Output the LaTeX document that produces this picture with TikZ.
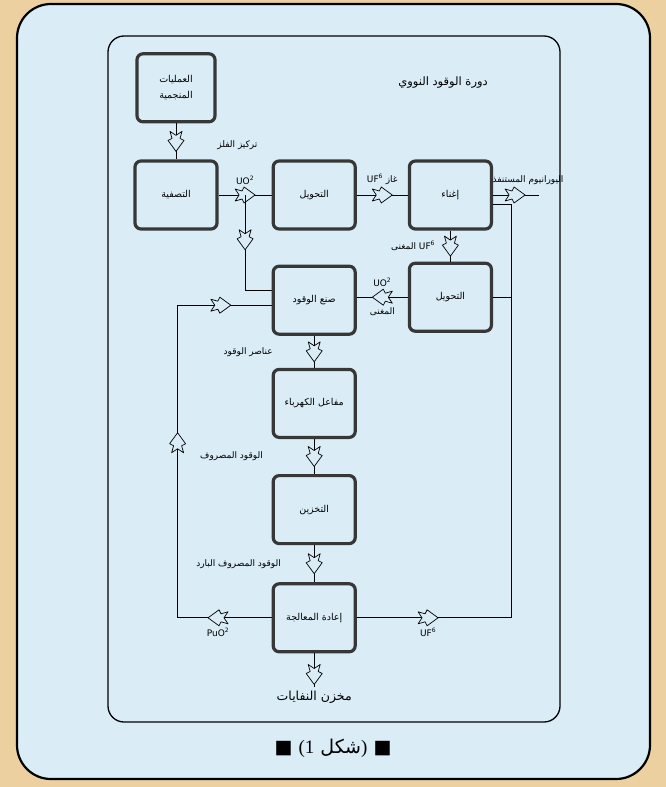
\documentclass[tikz,border=0pt]{standalone}
\usepackage{fontspec}
\setmainfont{DejaVu Sans}
\newfontfamily\arabicfont[Script=Arabic]{DejaVu Sans}
\newfontfamily\capfont{Liberation Serif}
\TeXXeTstate=1
\usetikzlibrary{positioning, calc}

\definecolor{paleblue}{RGB}{218,236,246}
\definecolor{sand}{RGB}{236,208,160}
\definecolor{boxline}{RGB}{55,55,55}

\newcommand{\artxt}[1]{{\arabicfont\beginR #1\endR}}

\tikzset{
  chev/.pic={\draw[line width=0.7pt, fill=paleblue, line join=round] (-10,6) -- (-3,4) -- (-1,8) -- (10,0) -- (-1,-8) -- (-3,-4) -- (-10,-6) -- (-6,0) -- cycle;}
}

\begin{document}
\begin{tikzpicture}[x=1pt, y=1pt, node distance=34pt and 53pt,
    stage/.style={rectangle, rounded corners=6pt, draw=boxline, line width=3.2pt, fill=paleblue, minimum width=82pt, minimum height=68pt, align=center, font=\fontsize{9.5}{13}\selectfont},
    lbl/.style={font=\fontsize{9}{10}\selectfont, inner sep=1pt},
    flow/.style={line width=0.8pt}]
    % frame
    \useasboundingbox (0,0) rectangle (666,-787);
    \fill[sand] (0,0) rectangle (666,-787);
    \draw[line width=2.2pt, fill=paleblue, rounded corners=34pt] (17,-4) rectangle (650,-779);
    \draw[line width=1.3pt, rounded corners=16pt] (108,-36) rectangle (560,-722);

    % Stages
    \node[stage] (tasfiya) at (176,-195) {\artxt{التصفية}};
    \node[stage, minimum width=78pt, above=36pt of tasfiya] (mine) {\artxt{العمليات}\\[3pt]\artxt{المنجمية}};
    \node[stage, right=53pt of tasfiya] (tahwilA) {\artxt{التحويل}};
    \node[stage, right=51pt of tahwilA] (ighna) {\artxt{إغناء}};
    \node[stage, below=31pt of ighna] (tahwilB) {\artxt{التحويل}};
    \node[stage, below=34pt of tahwilA] (fab) {\artxt{صنع الوقود}};
    \node[stage, below=32pt of fab] (reactor) {\artxt{مفاعل الكهرباء}};
    \node[stage, below=35pt of reactor] (store) {\artxt{التخزين}};
    \node[stage, below=37pt of store] (rep) {\artxt{إعادة المعالجة}};
    \node[font=\fontsize{12.5}{14}\selectfont, inner sep=3pt, below=34pt of rep] (waste) {\artxt{مخزن النفايات}};
    \node[font=\fontsize{11.5}{13}\selectfont] (title) at (443,-83) {\artxt{دورة الوقود النووي}};
    \node[font=\fontsize{19}{22}\selectfont] (caption) at (333,-748) {■ {\capfont(1} \artxt{شكل}{\capfont)} ■};

    \coordinate (fabtop) at ([yshift=10pt]fab.west);
    \coordinate (fablow) at ([yshift=-5pt]fab.west);
    \coordinate[right=46pt of ighna.east] (depleted);

    % Connections
    \draw[flow] (mine) -- pic[pos=.5, rotate=-90]{chev} node[lbl, pos=.6, right=40pt]{\artxt{تركيز الفلز}} (tasfiya);
    \draw[flow] (tasfiya) -- pic[pos=.5]{chev} coordinate[pos=.5] (split) node[lbl, pos=.5, above=9pt]{UO\textsuperscript{2}} (tahwilA);
    \draw[flow] (split) -- pic[pos=.47, rotate=-90]{chev} (split |- fabtop) -- (fabtop);
    \draw[flow] (tahwilA) -- pic[pos=.5]{chev} node[lbl, pos=.5, above=9pt]{\artxt{غاز \beginL UF\textsuperscript{6}\endL}} (ighna);
    \draw[flow] (ighna) -- pic[pos=.48]{chev} node[lbl, pos=.5, above=9pt, xshift=12pt]{\artxt{اليورانيوم المستنفذ}} (depleted);
    \draw[flow] (ighna) -- pic[pos=.5, rotate=-90]{chev} node[lbl, pos=.5, left=14pt]{\artxt{\beginL UF\textsuperscript{6}\endL{} المغنى}} (tahwilB);
    \draw[flow] (tahwilB.west) -- pic[pos=.5, rotate=180]{chev} node[lbl, pos=.5, above=9pt]{UO\textsuperscript{2}} node[lbl, pos=.5, below=9pt]{\artxt{المغنى}} (tahwilB.west -| fab.east);
    \draw[flow] (fab) -- pic[pos=.5, rotate=-90]{chev} node[lbl, pos=.5, left=40pt]{\artxt{عناصر الوقود}} (reactor);
    \draw[flow] (reactor) -- pic[pos=.5, rotate=-90]{chev} node[lbl, pos=.5, left=50pt]{\artxt{الوقود المصروف}} (store);
    \draw[flow] (store) -- pic[pos=.5, rotate=-90]{chev} node[lbl, pos=.5, left=32pt]{\artxt{الوقود المصروف البارد}} (rep);
    \draw[flow] (rep) -- pic[pos=.62, rotate=-90]{chev} (waste);
    \draw[flow] (rep.west) -- pic[pos=.57, rotate=180]{chev} node[lbl, pos=.57, below=9pt]{PuO\textsuperscript{2}} ++(-94,0) coordinate (pucorner) -- pic[pos=.56, rotate=90]{chev} (pucorner |- fablow) -- pic[pos=.46]{chev} (fablow);
    \draw[flow] (rep.east) -- pic[pos=.46]{chev} node[lbl, pos=.46, below=9pt]{UF\textsuperscript{6}} ++(155,0) coordinate (ufcorner) |- ([yshift=-9pt]ighna.east);
    \draw[flow] (tahwilB.east) -- (tahwilB.east -| ufcorner);
\end{tikzpicture}
\end{document}
